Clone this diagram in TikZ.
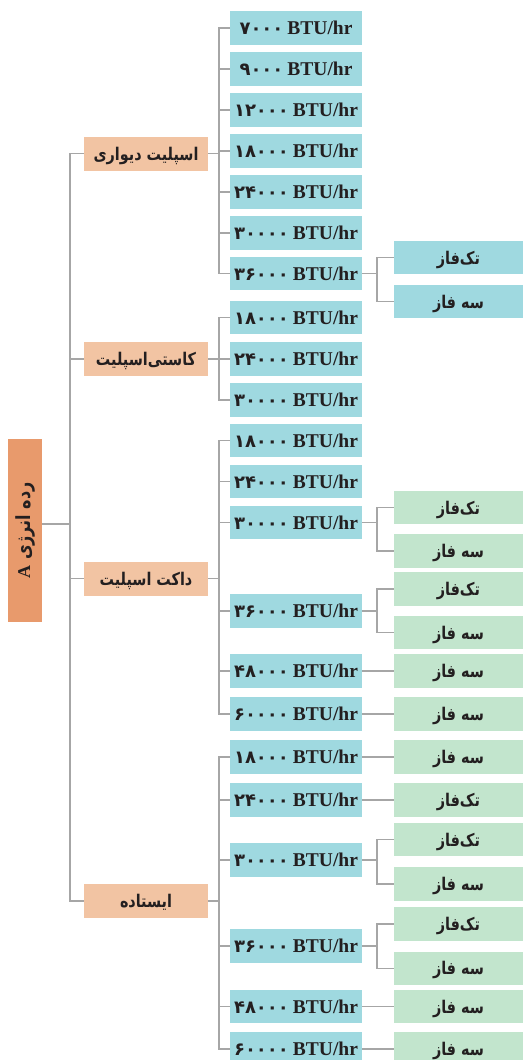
\documentclass[tikz,border=0pt]{standalone}
\usepackage{fontspec}
\usepackage{graphicx}
\TeXXeTstate=1
\newfontfamily\fafont[Script=Arabic]{DejaVu Sans}
\newfontfamily\fanarrow[Script=Arabic,FakeStretch=0.82]{DejaVu Sans}
\newfontfamily\latfont{Liberation Serif}
\definecolor{rootc}{HTML}{E89A6C}
\definecolor{catc}{HTML}{F2C4A3}
\definecolor{cyanc}{HTML}{9FD9E0}
\definecolor{greenc}{HTML}{C2E5CD}
\definecolor{linec}{HTML}{A6A6A6}
\definecolor{txtc}{HTML}{231F20}
\newcommand\btulbl[1]{{\fafont\bfseries\fontsize{18}{18}\selectfont #1}\hspace{4pt}{\latfont\bfseries\fontsize{19.5}{20}\selectfont BTU/hr}}
\newcommand\fatxt[1]{\raisebox{-6.5pt}[0pt][0pt]{\fanarrow\bfseries\fontsize{17.5}{18}\selectfont\beginR #1\endR}}
\begin{document}
\begin{tikzpicture}[x=1pt,y=-1pt,
  base/.style={inner sep=0pt, text=txtc, anchor=center},
  rootbox/.style={base, fill=rootc, minimum width=34pt, minimum height=182.7pt},
  catbox/.style={base, fill=catc, minimum width=124pt, minimum height=34pt},
  btubox/.style={base, fill=cyanc, minimum width=132pt, minimum height=33.5pt},
  subcyan/.style={base, fill=cyanc, minimum width=129pt, minimum height=33.5pt},
  subgreen/.style={base, fill=greenc, minimum width=129pt, minimum height=33.5pt},
  conn/.style={draw=linec, line width=1.5pt}]
\useasboundingbox (0,0) rectangle (523,1060);
% root
\node[rootbox] (root) at (25,530.3) {\rotatebox{90}{\fanarrow\bfseries\fontsize{19.5}{20}\selectfont\beginR رده انرژی \beginL{\latfont\bfseries\fontsize{18}{18}\selectfont A}\endL\endR}};
% categories
\node[catbox] (c1) at (146,153.7) {\fatxt{اسپلیت دیواری}};
\node[catbox] (c2) at (146,359) {\fatxt{کاستی‌اسپلیت}};
\node[catbox] (c3) at (146,578.7) {\fatxt{داکت اسپلیت}};
\node[catbox] (c4) at (146,901) {\fatxt{ایستاده}};
% wall split
\node[btubox] (w1) at (296,27.8) {\btulbl{۷۰۰۰}};
\node[btubox] (w2) at (296,68.8) {\btulbl{۹۰۰۰}};
\node[btubox] (w3) at (296,110) {\btulbl{۱۲۰۰۰}};
\node[btubox] (w4) at (296,151) {\btulbl{۱۸۰۰۰}};
\node[btubox] (w5) at (296,192) {\btulbl{۲۴۰۰۰}};
\node[btubox] (w6) at (296,233) {\btulbl{۳۰۰۰۰}};
\node[btubox] (w7) at (296,273.5) {\btulbl{۳۶۰۰۰}};
\node[subcyan] (ws1) at (458.5,257.5) {\fatxt{تک‌فاز}};
\node[subcyan] (ws2) at (458.5,301.5) {\fatxt{سه فاز}};
% cassette
\node[btubox] (k1) at (296,317.7) {\btulbl{۱۸۰۰۰}};
\node[btubox] (k2) at (296,359) {\btulbl{۲۴۰۰۰}};
\node[btubox] (k3) at (296,400) {\btulbl{۳۰۰۰۰}};
% duct
\node[btubox] (d1) at (296,440.7) {\btulbl{۱۸۰۰۰}};
\node[btubox] (d2) at (296,481.7) {\btulbl{۲۴۰۰۰}};
\node[btubox] (d3) at (296,522.7) {\btulbl{۳۰۰۰۰}};
\node[btubox] (d4) at (296,610.8) {\btulbl{۳۶۰۰۰}};
\node[btubox] (d5) at (296,670.8) {\btulbl{۴۸۰۰۰}};
\node[btubox] (d6) at (296,714) {\btulbl{۶۰۰۰۰}};
\node[subgreen] (ds1) at (458.5,507.7) {\fatxt{تک‌فاز}};
\node[subgreen] (ds2) at (458.5,551) {\fatxt{سه فاز}};
\node[subgreen] (ds3) at (458.5,589) {\fatxt{تک‌فاز}};
\node[subgreen] (ds4) at (458.5,632.7) {\fatxt{سه فاز}};
\node[subgreen] (ds5) at (458.5,670.8) {\fatxt{سه فاز}};
\node[subgreen] (ds6) at (458.5,714) {\fatxt{سه فاز}};
% standing
\node[btubox] (s1) at (296,756.8) {\btulbl{۱۸۰۰۰}};
\node[btubox] (s2) at (296,799.8) {\btulbl{۲۴۰۰۰}};
\node[btubox] (s3) at (296,860) {\btulbl{۳۰۰۰۰}};
\node[btubox] (s4) at (296,946) {\btulbl{۳۶۰۰۰}};
\node[btubox] (s5) at (296,1006.7) {\btulbl{۴۸۰۰۰}};
\node[btubox] (s6) at (296,1049) {\btulbl{۶۰۰۰۰}};
\node[subgreen] (ss1) at (458.5,756.8) {\fatxt{سه فاز}};
\node[subgreen] (ss2) at (458.5,799.8) {\fatxt{تک‌فاز}};
\node[subgreen] (ss3) at (458.5,839.7) {\fatxt{تک‌فاز}};
\node[subgreen] (ss4) at (458.5,884) {\fatxt{سه فاز}};
\node[subgreen] (ss5) at (458.5,924) {\fatxt{تک‌فاز}};
\node[subgreen] (ss6) at (458.5,968.3) {\fatxt{سه فاز}};
\node[subgreen] (ss7) at (458.5,1006.7) {\fatxt{سه فاز}};
\node[subgreen] (ss8) at (458.5,1049) {\fatxt{سه فاز}};
% connectors
\coordinate (tr) at (70,524);
\draw[conn] (root.east |- tr) -- (tr);
\foreach \c in {c1,c2,c3,c4} \draw[conn] (tr) |- (\c.west);
\foreach \b in {w1,w2,w3,w4,w5,w6,w7} \draw[conn] (c1.east) -- ++(11,0) |- (\b.west);
\foreach \b in {k1,k2,k3} \draw[conn] (c2.east) -- ++(11,0) |- (\b.west);
\foreach \b in {d1,d2,d3,d4,d5,d6} \draw[conn] (c3.east) -- ++(11,0) |- (\b.west);
\foreach \b in {s1,s2,s3,s4,s5,s6} \draw[conn] (c4.east) -- ++(11,0) |- (\b.west);
\foreach \a/\b in {w7/ws1,w7/ws2,d3/ds1,d3/ds2,d4/ds3,d4/ds4,s3/ss3,s3/ss4,s4/ss5,s4/ss6}
  \draw[conn] (\a.east) -- ++(15,0) |- (\b.west);
\foreach \a/\b in {d5/ds5,d6/ds6,s1/ss1,s2/ss2,s5/ss7,s6/ss8}
  \draw[conn] (\a.east) -- (\b.west);
\end{tikzpicture}
\end{document}
